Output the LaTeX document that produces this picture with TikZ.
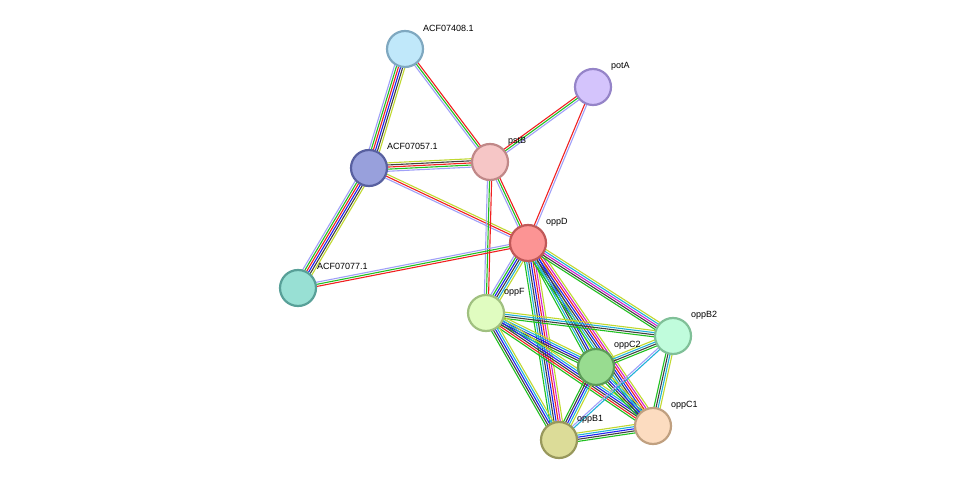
\documentclass[tikz,border=0pt]{standalone}
\usepackage{fontspec}
\setmainfont{Liberation Sans}
\usetikzlibrary{calc}
\definecolor{lav}{HTML}{A0A0F8}
\definecolor{gr}{HTML}{20C020}
\definecolor{rd}{HTML}{F02020}
\definecolor{bk}{HTML}{404040}
\definecolor{bl}{HTML}{2020F0}
\definecolor{yg}{HTML}{C0D830}
\definecolor{cy}{HTML}{20B0D8}
\definecolor{mg}{HTML}{D020D0}
\definecolor{fA}{HTML}{C0E8FA}\definecolor{sA}{HTML}{7FA8C0}
\definecolor{fB}{HTML}{D4C4FC}\definecolor{sB}{HTML}{9584C8}
\definecolor{fC}{HTML}{98A0DC}\definecolor{sC}{HTML}{5860A0}
\definecolor{fD}{HTML}{F6C6C6}\definecolor{sD}{HTML}{C08888}
\definecolor{fE}{HTML}{FC9494}\definecolor{sE}{HTML}{C05858}
\definecolor{fF}{HTML}{98E0D4}\definecolor{sF}{HTML}{58A098}
\definecolor{fG}{HTML}{E0FCC0}\definecolor{sG}{HTML}{A0C080}
\definecolor{fH}{HTML}{C0FCDC}\definecolor{sH}{HTML}{80C098}
\definecolor{fI}{HTML}{98DC90}\definecolor{sI}{HTML}{5C9C58}
\definecolor{fJ}{HTML}{FCDCC0}\definecolor{sJ}{HTML}{C0A080}
\definecolor{fK}{HTML}{DCDC98}\definecolor{sK}{HTML}{98985C}
\newcommand\myedge[3]{%
  \foreach \c [count=\n] in {#3}{\xdef\nn{\n}}%
  \foreach \c [count=\i] in {#3}{%
    \pgfmathsetmacro\o{(\i-(\nn+1)/2)*2.1}%
    \draw[\c, line width=1.1pt] ($(#1)!\o pt!90:(#2)$) -- ($(#2)!\o pt!-90:(#1)$);
  }}
\begin{document}
\begin{tikzpicture}[x=1pt,y=-1pt,
  prot/.style={circle, minimum size=36pt, inner sep=0pt, line width=2.2pt, fill=f#1, draw=s#1},
  lab/.style={anchor=west, font=\fontsize{9}{10}\selectfont, inner sep=0pt}]
\useasboundingbox (0,0) rectangle (976,486);
\coordinate (c408) at (405,49);
\coordinate (cpotA) at (593,87);
\coordinate (c057) at (369,168);
\coordinate (cpstB) at (490,162);
\coordinate (coppD) at (528,243);
\coordinate (c077) at (298,288);
\coordinate (coppF) at (486,313);
\coordinate (coppB2) at (673,336);
\coordinate (coppC2) at (596,367);
\coordinate (coppC1) at (653,426);
\coordinate (coppB1) at (559,440);
\myedge{c408}{c057}{lav,gr,rd,bl,bk,yg}
\myedge{c408}{cpstB}{lav,gr,rd}
\myedge{c057}{cpstB}{lav,gr,rd,bk,yg}
\myedge{c057}{coppD}{lav,rd,yg}
\myedge{c057}{c077}{lav,gr,rd,bl,bk,yg}
\myedge{cpstB}{cpotA}{lav,gr,rd}
\myedge{cpotA}{coppD}{rd,lav}
\myedge{cpstB}{coppD}{lav,gr,rd}
\myedge{cpstB}{coppF}{lav,gr,rd}
\myedge{c077}{coppD}{rd,gr,lav}
\myedge{coppD}{coppF}{lav,gr,bl,bk,cy,yg}
\myedge{coppD}{coppB1}{gr,cy,bk,bl,rd,mg,yg}
\myedge{coppD}{coppC2}{gr,cy,bk,bl,yg}
\myedge{coppD}{coppC1}{gr,cy,bk,bl,rd,mg,yg}
\myedge{coppD}{coppB2}{gr,bk,mg,cy,yg}
\myedge{coppF}{coppB2}{gr,bk,cy,yg}
\myedge{coppF}{coppC2}{gr,bk,bl,cy,yg}
\myedge{coppF}{coppC1}{gr,rd,bk,bl,cy,yg}
\myedge{coppF}{coppB1}{gr,bk,bl,cy,yg}
\myedge{coppC2}{coppB2}{gr,bk,cy,yg}
\myedge{coppC2}{coppC1}{gr,bk,bl,cy,yg}
\myedge{coppC2}{coppB1}{gr,bk,bl,cy,yg}
\myedge{coppB2}{coppC1}{gr,bk,cy,yg}
\myedge{coppB2}{coppB1}{lav,cy}
\myedge{coppB1}{coppC1}{gr,bk,bl,cy,yg}
\node[prot=A] (n408) at (c408) {};
\node[prot=B] (npotA) at (cpotA) {};
\node[prot=C] (n057) at (c057) {};
\node[prot=D] (npstB) at (cpstB) {};
\node[prot=E] (noppD) at (coppD) {};
\node[prot=F] (n077) at (c077) {};
\node[prot=G] (noppF) at (coppF) {};
\node[prot=H] (noppB2) at (coppB2) {};
\node[prot=I] (noppC2) at (coppC2) {};
\node[prot=J] (noppC1) at (coppC1) {};
\node[prot=K] (noppB1) at (coppB1) {};
\node[lab] (l408) at ($(c408)+(18,-21)$) {ACF07408.1};
\node[lab] (lpotA) at ($(cpotA)+(18,-21)$) {potA};
\node[lab] (l057) at ($(c057)+(18,-22)$) {ACF07057.1};
\node[lab] (lpstB) at ($(cpstB)+(18,-21)$) {pstB};
\node[lab] (loppD) at ($(coppD)+(18,-21)$) {oppD};
\node[lab] (l077) at ($(c077)+(19,-22)$) {ACF07077.1};
\node[lab] (loppF) at ($(coppF)+(18,-21)$) {oppF};
\node[lab] (loppB2) at ($(coppB2)+(18,-21)$) {oppB2};
\node[lab] (loppC2) at ($(coppC2)+(18,-22)$) {oppC2};
\node[lab] (loppC1) at ($(coppC1)+(18,-21)$) {oppC1};
\node[lab] (loppB1) at ($(coppB1)+(18,-21)$) {oppB1};
\end{tikzpicture}
\end{document}
